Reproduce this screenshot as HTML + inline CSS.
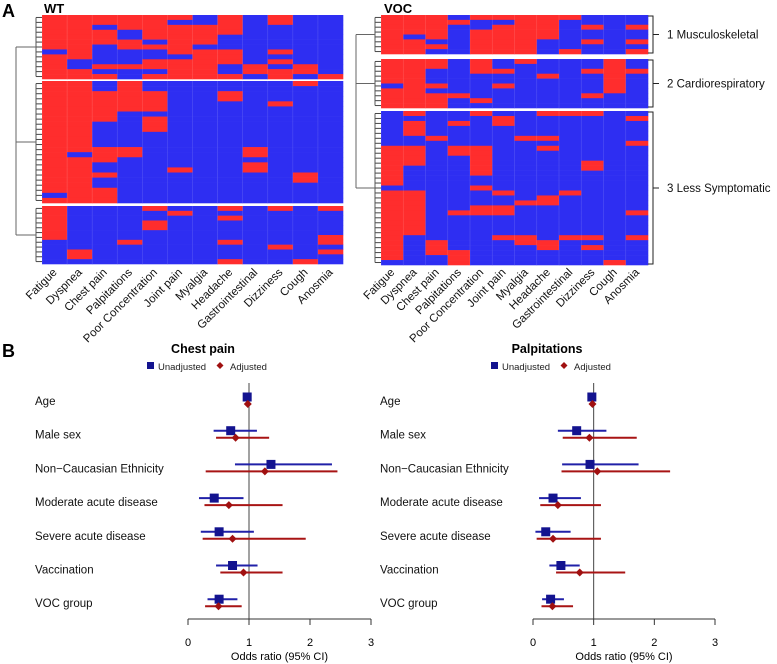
<!DOCTYPE html>
<html><head><meta charset="utf-8"><style>
html,body{margin:0;padding:0;background:#fff;}
svg{display:block;font-family:"Liberation Sans",Arial,sans-serif;}
</style></head><body>
<svg id="fig" width="777" height="664" viewBox="0 0 777 664" xmlns="http://www.w3.org/2000/svg">
<text x="2" y="17" font-size="18" font-weight="bold">A</text>
<text x="44" y="13" font-size="13" font-weight="bold">WT</text>
<text x="384" y="13" font-size="13" font-weight="bold">VOC</text>
<text x="2" y="357" font-size="18" font-weight="bold">B</text>
<g id="hm"></g>
<g id="fp"></g>
</svg>
<script>
const symptoms = ["Fatigue","Dyspnea","Chest pain","Palpitations","Poor Concentration","Joint pain","Myalgia","Headache","Gastrointestinal","Dizziness","Cough","Anosmia"];
const wtC1 = ["1111111011111","1111111110011","1101110000101","1110011000100","1111101001101","1011111101111","0011110111111","1111000111001","0000000000110","1100000101011","0000000000110","0000000000001"];
const wtC2 = ["111111111111111111111101","111111111111110111111111","001111110000011100100111","111111000000011000000000","001111011100000000000000","000000000000000001000000","000000000000000000000000","001100000000000000000000","000000000000011011000000","000010000000000000000000","100000000000000000110000","000000000000000000000000"];
const wtC3 = ["111111100000","000000000110","000000000000","000000010000","100110000000","010000000000","000000000000","101000010001","000000000000","100000001000","000000000001","100000110100"];
const vocC1 = ["11111111","11110111","11111010","01000000","10011111","10111111","11111111","11111000","10000001","00100100","00000000","00100101"];
const vocC2 = ["1111101111","1111111111","1100010111","0000000100","1110000010","0010010000","1000000000","0001000000","0000000000","0010000100","1111111000","0010000000"];
const vocC3 = ["0000000111111110111111111111110","1011100111100000111111111000000","0000010000000000000000000011100","0010000110000000000010000000111","1000000111111001000110000000000","0110000000000000100110000100000","0000010000000000001000000110000","1000010100000000011000000011000","1000000000000000100000000100000","1000000000110000000000000101000","0000000000000000000000000000001","0100001000000000000010000100000"];
const vocClusterNames = ["1 Musculoskeletal","2 Cardiorespiratory","3 Less Symptomatic"];

const predictors = ["Age","Male sex","Non\u2212Caucasian Ethnicity","Moderate acute disease","Severe acute disease","Vaccination","VOC group"];
const cpUnadjEst = [0.97,0.70,1.36,0.43,0.51,0.73,0.51];
const cpUnadjLo  = [0.96,0.42,0.77,0.18,0.21,0.46,0.32];
const cpUnadjHi  = [0.98,1.13,2.36,0.91,1.08,1.14,0.81];
const cpAdjEst = [0.98,0.78,1.26,0.67,0.73,0.91,0.50];
const cpAdjLo  = [0.97,0.46,0.29,0.27,0.24,0.53,0.28];
const cpAdjHi  = [0.99,1.33,2.45,1.55,1.93,1.55,0.88];
const ppUnadjEst = [0.97,0.72,0.94,0.33,0.21,0.46,0.29];
const ppUnadjLo  = [0.96,0.41,0.48,0.10,0.04,0.27,0.15];
const ppUnadjHi  = [0.98,1.21,1.74,0.79,0.62,0.77,0.51];
const ppAdjEst = [0.98,0.93,1.06,0.41,0.33,0.77,0.32];
const ppAdjLo  = [0.97,0.49,0.47,0.12,0.06,0.38,0.14];
const ppAdjHi  = [0.99,1.71,2.26,1.12,1.12,1.52,0.66];
const xTicks = [0,1,2,3];

const NS="http://www.w3.org/2000/svg";
function mk(tag, attrs, parent){const e=document.createElementNS(NS,tag);for(const k in attrs)e.setAttribute(k,attrs[k]);parent.appendChild(e);return e;}
const RED="#ff2d2d", BLUE="#2e2ef2";
const hm=document.getElementById('hm');

function heatmap(name, x0, x1, clusters, dendX){
  const g=mk('g',{},hm);
  
  
  const cw=(x1-x0)/symptoms.length;
  clusters.forEach((cl,ci)=>{
    const data=cl.data, top=cl.y0, h=cl.y1-cl.y0;
    for(let c=0;c<symptoms.length;c++){
      const s=data[c]; const rh=h/s.length;
      for(let r=0;r<s.length;r++){
        const cell=mk('rect',{x:x0+c*cw,y:top+r*rh,width:cw+0.3,height:rh+0.3,fill:s[r]==='1'?RED:BLUE},g);
        
        
      }
      mk('line',{x1:x0+c*cw,x2:x0+c*cw,y1:top,y2:cl.y1,stroke:"rgba(255,255,255,0.18)","stroke-width":0.6},g);
    }
    // dendrogram leaves
    const n=data[0].length, rh=h/n;
    for(let r=0;r<n;r++){
      mk('line',{x1:x0-6,x2:x0,y1:top+(r+0.5)*rh,y2:top+(r+0.5)*rh,stroke:"#444","stroke-width":1},g);
    }
    mk('line',{x1:x0-6,x2:x0-6,y1:top+rh/2,y2:cl.y1-rh/2,stroke:"#555","stroke-width":1},g);
    const mid=(top+cl.y1)/2;
    mk('line',{x1:dendX+4,x2:x0-6,y1:mid,y2:mid,stroke:"#666","stroke-width":1},g);
    cl.mid=mid;
  });
  // root
  const d=mk('g',{},g);
  
  
  mk('line',{x1:dendX+4,x2:dendX+4,y1:clusters[0].mid,y2:clusters[clusters.length-1].mid,stroke:"#666","stroke-width":1},d);
  // labels
  symptoms.forEach((s,i)=>{
    const cx=x0+(i+0.5)*cw+3;
    const t=mk('text',{x:cx,y:273,"font-size":11.5,"text-anchor":"end",transform:`rotate(-45 ${cx} 273)`,fill:"#111"},g);
    t.textContent=s;
    
    
  });
}
heatmap('wt',42,343,[{data:wtC1,y0:15,y1:79},{data:wtC2,y0:81,y1:203},{data:wtC3,y0:206,y1:264}],12);
const vocCl=[{data:vocC1,y0:15,y1:54},{data:vocC2,y0:59,y1:108},{data:vocC3,y0:111,y1:265}];
heatmap('voc',381,648,vocCl,352);
vocCl.forEach((cl,i)=>{
  const b=mk('path',{d:`M648 ${cl.y0+1} H653 V${cl.y1-1} H648 M653 ${cl.mid} H659`,fill:"none",stroke:"#222","stroke-width":1},hm);
  
  
  const t=mk('text',{x:667,y:cl.mid+4,"font-size":11.5,fill:"#111"},hm);
  t.textContent=vocClusterNames[i];
  
  
});

const fp=document.getElementById('fp');
const rowY0=401, rowStep=33.7;
function forest(name,title,titleX,legX,labelX,ax0,ax3,ue,ul,uh,ae,al,ah){
  const g=mk('g',{},fp);
  
  
  const sx=v=>ax0+(ax3-ax0)*v/3;
  const ty=mk('text',{x:titleX,y:353,"font-size":12.5,"font-weight":"bold","text-anchor":"middle"},g);
  ty.textContent=title;
  
  
  const lg=mk('g',{},g);
  
  
  mk('rect',{x:legX-3,y:362,width:7,height:7,fill:"#13138f"},lg);
  const l1=mk('text',{x:legX+8,y:370,"font-size":9.5,fill:"#222"},lg); l1.textContent="Unadjusted";
  mk('path',{d:`M${legX+70} 362 l3.5 3.5 l-3.5 3.5 l-3.5 -3.5z`,fill:"#a01010"},lg);
  const l2=mk('text',{x:legX+80,y:370,"font-size":9.5,fill:"#222"},lg); l2.textContent="Adjusted";
  mk('line',{x1:sx(1),x2:sx(1),y1:383,y2:619,stroke:"#444","stroke-width":1},g);
  const ax=mk('g',{},g);
  
  
  mk('line',{x1:sx(0),x2:sx(3),y1:619,y2:619,stroke:"#333","stroke-width":1},ax);
  xTicks.forEach(v=>{
    mk('line',{x1:sx(v),x2:sx(v),y1:619,y2:625,stroke:"#333","stroke-width":1},ax);
    const t=mk('text',{x:sx(v),y:646,"font-size":11,"text-anchor":"middle"},ax); t.textContent=v;
  });
  const xl=mk('text',{x:sx(1.5),y:660,"font-size":11,"text-anchor":"middle"},ax);
  xl.textContent="Odds ratio (95% CI)";
  predictors.forEach((p,i)=>{
    const y=rowY0+i*rowStep;
    const t=mk('text',{x:labelX,y:y+4,"font-size":11.5,fill:"#111"},g);
    t.textContent=p;
    
    
    const yu=y-4, ya=y+3;
    const ln=mk('line',{x1:sx(ul[i]),x2:sx(uh[i]),y1:yu,y2:yu,stroke:"#2020a8","stroke-width":2},g);
    
    
    const sq=mk('rect',{x:sx(ue[i])-4.5,y:yu-4.5,width:9,height:9,fill:"#13138f"},g);
    
    
    const la=mk('line',{x1:sx(al[i]),x2:sx(ah[i]),y1:ya,y2:ya,stroke:"#a81414","stroke-width":2},g);
    
    
    const dx=sx(ae[i]);
    const dm=mk('path',{d:`M${dx} ${ya-4} l4 4 l-4 4 l-4 -4z`,fill:"#a01010"},g);
    
    
  });
}
forest('chest-pain','Chest pain',203,150,35,188,371,cpUnadjEst,cpUnadjLo,cpUnadjHi,cpAdjEst,cpAdjLo,cpAdjHi);
forest('palpitations','Palpitations',547,494,380,533,715,ppUnadjEst,ppUnadjLo,ppUnadjHi,ppAdjEst,ppAdjLo,ppAdjHi);
</script>
</body></html>
